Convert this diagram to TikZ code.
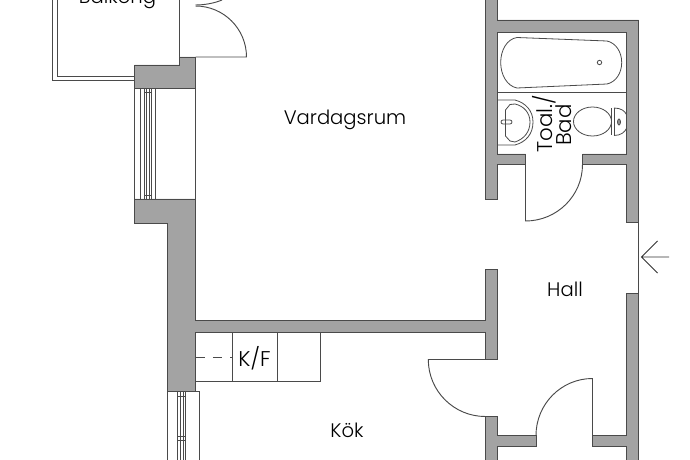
\documentclass[tikz,border=0pt]{standalone}
\usepackage{fontspec}
\setmainfont{Poppins Light}
\definecolor{wallgray}{HTML}{A3A3A3}
\definecolor{linegray}{HTML}{4A4A4A}
\tikzset{
  wall/.style={fill=wallgray,draw=linegray,line width=.7pt},
  thin line/.style={draw=linegray,line width=.7pt},
  fixture/.style={draw=linegray,line width=.6pt},
  room/.style={font=\fontsize{14.7}{16}\selectfont,text=black,inner sep=0pt},
  tight room/.style={font=\fontsize{16}{18}\selectfont,text=black,inner sep=0pt}
}
\begin{document}
\begin{tikzpicture}[x=.75pt,y=-.75pt]
\useasboundingbox (0,0) rectangle (690,460);
% balcony
\draw[thin line] (52.5,0) -- (52.5,80.5) -- (134.5,80.5);
\draw[thin line] (57.5,0) -- (57.5,76) -- (134.5,76);
\draw[thin line] (179.5,0) -- (179.5,65);
% walls
\draw[wall] (134.5,65) -- (179.5,65) -- (179.5,57) -- (195.5,57) -- (195.5,88.5) -- (134.5,88.5) -- cycle;
\draw[wall] (134.5,199) -- (195.5,199) -- (195.5,320.5) -- (485.3,320.5) -- (485.3,269) -- (497.7,269) -- (497.7,359.5) -- (485.3,359.5) -- (485.3,332.3) -- (195.5,332.3) -- (195.5,391.7) -- (167,391.7) -- (167,223) -- (134.5,223) -- cycle;
\draw[wall] (485.3,0) -- (485.3,199) -- (497.7,199) -- (497.7,164.5) -- (525.5,164.5) -- (525.5,154) -- (497.7,154) -- (497.7,32) -- (626.7,32) -- (626.7,154) -- (582.5,154) -- (582.5,164.5) -- (626.7,164.5) -- (626.7,222) -- (638.7,222) -- (638.7,20) -- (497.7,20) -- (497.7,0);
\draw[wall] (485.3,460) -- (485.3,416.5) -- (497.7,416.5) -- (497.7,435.5) -- (536,435.5) -- (536,446.5) -- (497.7,446.5) -- (497.7,460);
\draw[wall] (626.7,460) -- (626.7,446.5) -- (592.5,446.5) -- (592.5,435.5) -- (626.7,435.5) -- (626.7,293) -- (638.7,293) -- (638.7,460);
\draw[thin line] (638.7,222) -- (638.7,293);
% upper window
\draw[fixture] (134.5,88.5) -- (134.5,199) (195.5,88.5) -- (195.5,199);
\foreach \wx in {140,144.5,146.5,149.7,151.7,155.7}
  \draw[fixture] (\wx,88.5) -- (\wx,199);
\draw[fixture] (144.5,92.5) -- (151.7,92.5) (144.5,195) -- (151.7,195);
% lower window
\draw[fixture] (167,391.7) -- (167,460) (199.7,391.7) -- (199.7,460) (195.5,391.7) -- (199.7,391.7);
\foreach \wx in {177.7,180,183,185}
  \draw[fixture] (\wx,391.7) -- (\wx,460);
\draw[fixture] (177.7,396) -- (185,396) (177.7,436) -- (185,436) (177.7,440) -- (185,440);
% doors
\draw[thin line] (195.5,57) -- (246.5,57) arc[start angle=0,end angle=-90,radius=51];
\draw[thin line] (195.5,5) .. controls (205,5) and (215,3) .. (222,0);
\draw[thin line] (525.5,164.5) -- (525.5,221) arc[start angle=90,end angle=0,x radius=57,y radius=56.5];
\draw[thin line] (485.3,359.5) -- (428.3,359.5) arc[start angle=180,end angle=90,radius=57];
\draw[thin line] (592.5,435.5) -- (592.5,378.5) arc[start angle=-90,end angle=-180,x radius=56.5,y radius=57];
% kitchen counter
\draw[fixture] (195.5,381) -- (320,381) -- (320,332.3);
\draw[fixture] (232.7,332.3) -- (232.7,381) (277.5,332.3) -- (277.5,381);
\draw[fixture,dashed,dash pattern=on 7pt off 6pt] (195.5,357) -- (232.7,357);
% bathroom
\draw[fixture] (497.7,92.5) -- (626.7,92.5);
\draw[fixture] (517,37.5) -- (607,41) .. controls (616,43) and (621.7,52) .. (621.7,62.5) .. controls (621.7,73) and (616,82) .. (607,84) -- (517,88) .. controls (507,86) and (500.7,75) .. (500.7,62.5) .. controls (500.7,50) and (507,39) .. (517,37.5) -- cycle;
\draw[fixture] (599.5,62.5) circle[radius=2.2];
\draw[fixture] (497.7,100) -- (515,100) .. controls (526,103) and (533,111) .. (533,122) .. controls (533,134) and (526,142) .. (515,145) -- (497.7,145);
\draw[fixture] (505.5,110) -- (510,104.5) -- (515,104) .. controls (524,106) and (530,113) .. (530,122) .. controls (530,132) and (524,139) .. (515,142) -- (510,141) -- (505.5,136) -- cycle;
\draw[fixture,rounded corners=1.5pt] (501,120) rectangle (512,124);
\draw[fixture] (592.5,121.5) ellipse[x radius=19,y radius=14.5];
\draw[fixture] (611,108.5) -- (611,135) (614,108) -- (614,135.5);
\draw[fixture] (614,108) .. controls (621,108) and (625,111) .. (626.7,115);
\draw[fixture] (614,135.5) .. controls (621,135.5) and (625,132) .. (626.7,128);
\draw[fixture,fill=linegray!60] (619,122) ellipse[x radius=1.5,y radius=3];
% entrance arrow
\draw[line width=.7pt,draw=black!80] (657.5,241) -- (641.5,257) -- (657.5,273) (641.5,257) -- (669,257);
% labels
\node[room,anchor=base] (balkong) at (117.5,4) {Balkong};
\node[room] (vardagsrum) at (345,120) {Vardagsrum};
\node[room] (hall) at (565,289.5) {Hall};
\node[room] (kok) at (347,430) {Kök};
\node[tight room] (kf) at (254.5,358) {K/F};
\node[tight room,rotate=90] (toal) at (544,124) {Toal./};
\node[tight room,rotate=90] (bad) at (564,125) {Bad};
\end{tikzpicture}
\end{document}
